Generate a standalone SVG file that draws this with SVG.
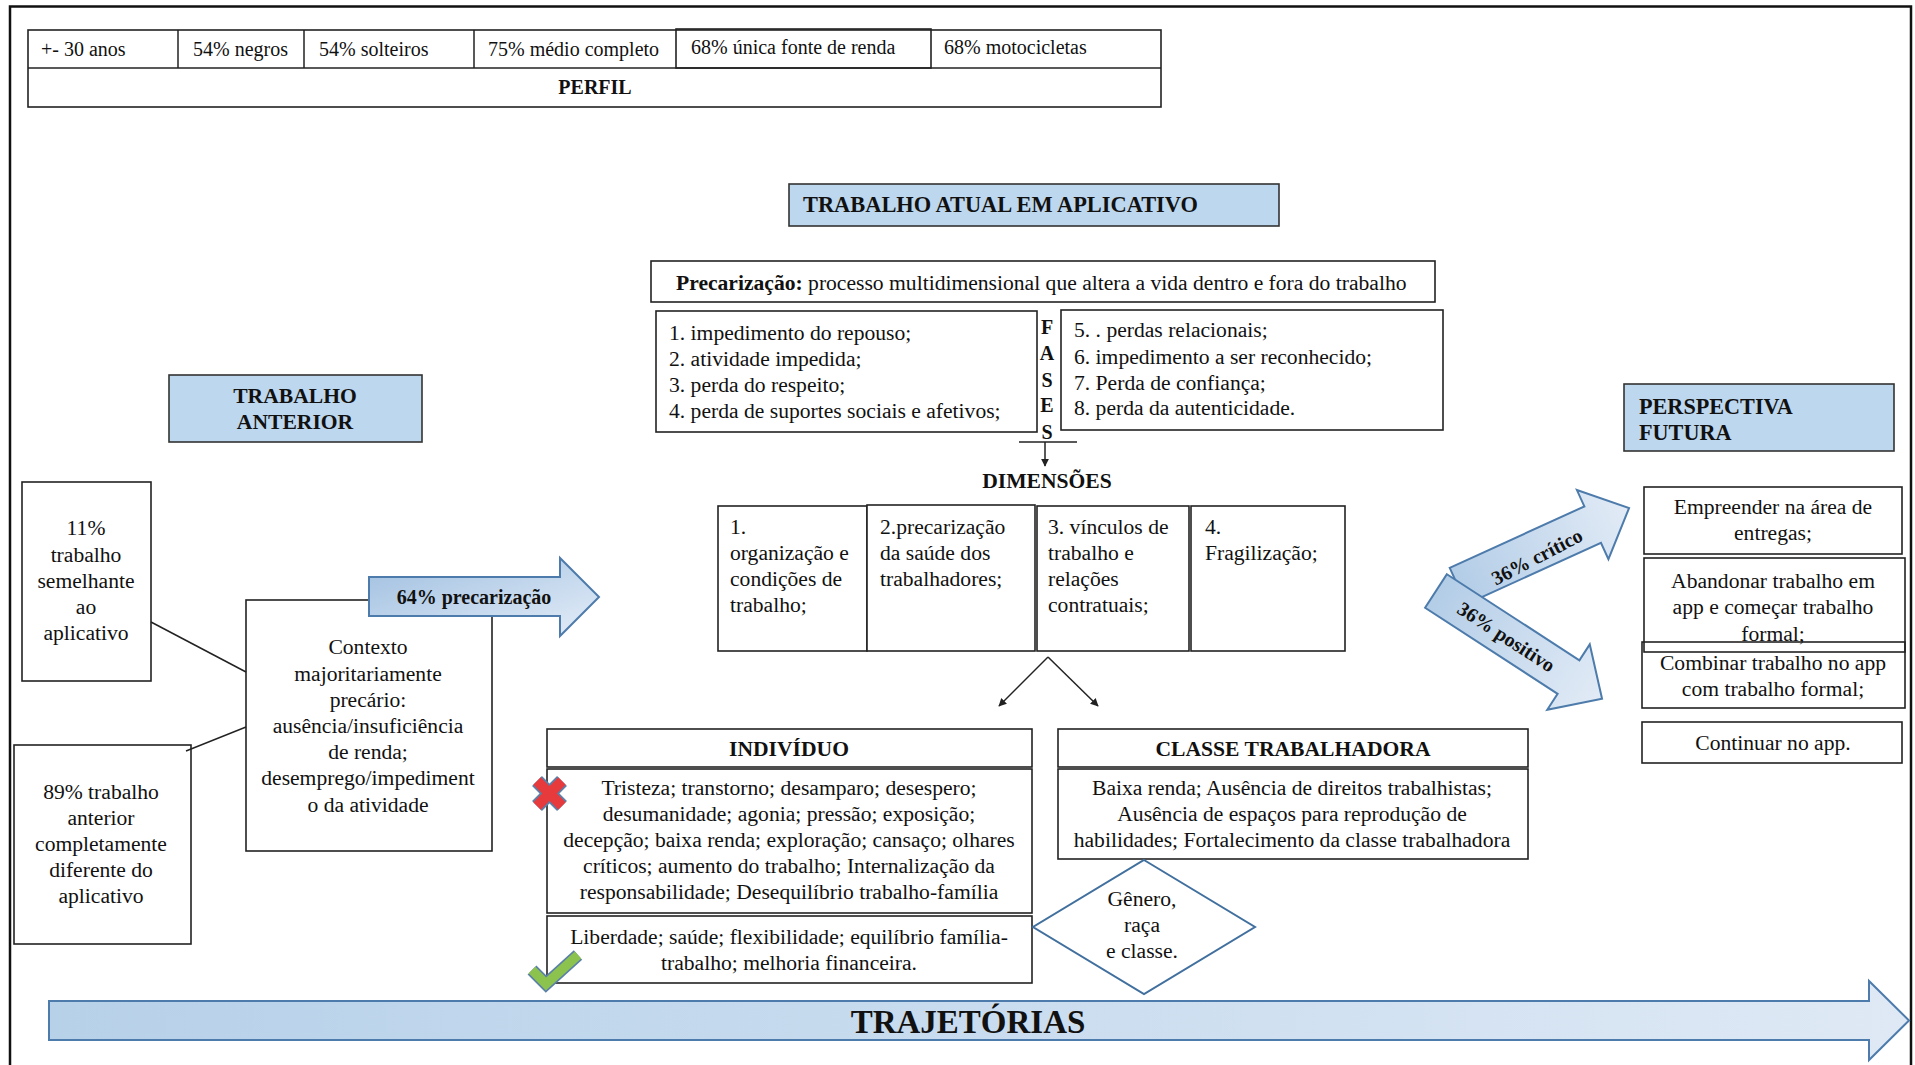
<svg xmlns="http://www.w3.org/2000/svg" width="1915" height="1065" viewBox="0 0 1915 1065">
  <style>
    text { font-family: "Liberation Serif", "Times New Roman", serif; fill: #111; }
    .t20 { font-size: 20px; }
    .t { font-size: 21.6px; }
    .b { font-weight: bold; }
    .c { text-anchor: middle; }
    .box { fill: #fff; stroke: #222; stroke-width: 1.6; }
    .open { fill: none; stroke: #222; stroke-width: 1.6; }
    .head { fill: #bdd7ee; stroke: #333; stroke-width: 1.6; }
    .link { fill: none; stroke: #222; stroke-width: 1.5; }
    .fat { stroke: #4d7bab; stroke-width: 2; stroke-linejoin: miter; }
  </style>
  <defs>
    <marker id="tip" viewBox="0 0 10 10" refX="9" refY="5" markerWidth="8" markerHeight="8" markerUnits="userSpaceOnUse" orient="auto">
      <path d="M0,0 L10,5 L0,10 z" fill="#222"/>
    </marker>
    <linearGradient id="gArrow" x1="0" y1="0" x2="1" y2="1">
      <stop offset="0" stop-color="#9fbfe0"/>
      <stop offset="1" stop-color="#e4edf8"/>
    </linearGradient>
    <linearGradient id="gSide" x1="0" y1="0" x2="1" y2="0">
      <stop offset="0" stop-color="#b3cde7"/>
      <stop offset="1" stop-color="#e2ebf6"/>
    </linearGradient>
    <linearGradient id="gLong" x1="0" y1="0" x2="1" y2="0">
      <stop offset="0" stop-color="#b7d1e9"/>
      <stop offset="0.5" stop-color="#c9dcef"/>
      <stop offset="1" stop-color="#dfe9f5"/>
    </linearGradient>
  </defs>

  <rect width="1915" height="1065" fill="#fff"/>
  <!-- page frame -->
  <rect x="10" y="6.5" width="1901" height="1120" fill="none" stroke="#111" stroke-width="2.5"/>

  <!-- profile table -->
  <g id="perfil">
    <rect class="box" x="28" y="30" width="1133" height="77"/>
    <line class="link" x1="28" y1="68" x2="1161" y2="68"/>
    <line class="link" x1="178" y1="30" x2="178" y2="68"/>
    <line class="link" x1="304" y1="30" x2="304" y2="68"/>
    <line class="link" x1="474" y1="30" x2="474" y2="68"/>
    <rect class="open" x="676" y="29" width="255" height="39" stroke-width="2"/>
    <text class="t20" x="41" y="56">+- 30 anos</text>
    <text class="t20" x="193" y="56">54% negros</text>
    <text class="t20" x="319" y="56">54% solteiros</text>
    <text class="t20" x="488" y="56">75% médio completo</text>
    <text class="t20" x="691" y="54">68% única fonte de renda</text>
    <text class="t20" x="944" y="54">68% motocicletas</text>
    <text class="t20 b c" x="595" y="94">PERFIL</text>
  </g>

  <!-- current app work -->
  <g id="trabalho-atual">
    <rect class="head" x="789" y="184" width="490" height="42"/>
    <text class="b" x="803" y="212" font-size="22.4">TRABALHO ATUAL EM APLICATIVO</text>
  </g>

  <g id="precarizacao">
    <rect class="box" x="651" y="261" width="784" height="41"/>
    <text class="t" x="676" y="290"><tspan class="b">Precarização:</tspan> processo multidimensional que altera a vida dentro e fora do trabalho</text>
  </g>

  <g id="fases-1">
    <rect class="box" x="656" y="311" width="381" height="121"/>
    <text class="t" x="669" y="340">1. impedimento do repouso;</text>
    <text class="t" x="669" y="366">2. atividade impedida;</text>
    <text class="t" x="669" y="392">3. perda do respeito;</text>
    <text class="t" x="669" y="418">4. perda de suportes sociais e afetivos;</text>
  </g>

  <g id="fases-label">
    <text class="t20 b c" x="1047" y="334">F</text>
    <text class="t20 b c" x="1047" y="360">A</text>
    <text class="t20 b c" x="1047" y="387">S</text>
    <text class="t20 b c" x="1047" y="412">E</text>
    <text class="t20 b c" x="1047" y="439">S</text>
  </g>

  <g id="fases-2">
    <rect class="box" x="1061" y="310" width="382" height="120"/>
    <text class="t" x="1074" y="337">5. . perdas relacionais;</text>
    <text class="t" x="1074" y="364">6. impedimento a ser reconhecido;</text>
    <text class="t" x="1074" y="390">7. Perda de confiança;</text>
    <text class="t" x="1074" y="415">8. perda da autenticidade.</text>
  </g>

  <g id="dimensoes-label">
    <text class="t b c" x="1047" y="488">DIMENSÕES</text>
  </g>

  <g id="dim-1">
    <rect class="box" x="718" y="506" width="149" height="145"/>
    <text class="t" x="730" y="534">1.</text>
    <text class="t" x="730" y="560">organização e</text>
    <text class="t" x="730" y="586">condições de</text>
    <text class="t" x="730" y="612">trabalho;</text>
  </g>
  <g id="dim-2">
    <rect class="box" x="867" y="505" width="168" height="146"/>
    <text class="t" x="880" y="534">2.precarização</text>
    <text class="t" x="880" y="560">da saúde dos</text>
    <text class="t" x="880" y="586">trabalhadores;</text>
  </g>
  <g id="dim-3">
    <rect class="box" x="1037" y="506" width="152" height="145"/>
    <text class="t" x="1048" y="534">3. vínculos de</text>
    <text class="t" x="1048" y="560">trabalho e</text>
    <text class="t" x="1048" y="586">relações</text>
    <text class="t" x="1048" y="612">contratuais;</text>
  </g>
  <g id="dim-4">
    <rect class="box" x="1191" y="506" width="154" height="145"/>
    <text class="t" x="1205" y="534">4.</text>
    <text class="t" x="1205" y="560">Fragilização;</text>
  </g>

  <!-- previous work -->
  <g id="trabalho-anterior">
    <rect class="head" x="169" y="375" width="253" height="67"/>
    <text class="t b c" x="295" y="403">TRABALHO</text>
    <text class="t b c" x="295" y="429">ANTERIOR</text>
  </g>

  <g id="semelhante">
    <rect class="box" x="22" y="482" width="129" height="199"/>
    <text class="t c" x="86" y="535">11%</text>
    <text class="t c" x="86" y="562">trabalho</text>
    <text class="t c" x="86" y="588">semelhante</text>
    <text class="t c" x="86" y="614">ao</text>
    <text class="t c" x="86" y="640">aplicativo</text>
  </g>

  <g id="diferente">
    <rect class="box" x="14" y="745" width="177" height="199"/>
    <text class="t c" x="101" y="799">89% trabalho</text>
    <text class="t c" x="101" y="825">anterior</text>
    <text class="t c" x="101" y="851">completamente</text>
    <text class="t c" x="101" y="877">diferente do</text>
    <text class="t c" x="101" y="903">aplicativo</text>
  </g>

  <g id="contexto">
    <rect class="box" x="246" y="600" width="246" height="251"/>
    <text class="t c" x="368" y="654">Contexto</text>
    <text class="t c" x="368" y="681">majoritariamente</text>
    <text class="t c" x="368" y="707">precário:</text>
    <text class="t c" x="368" y="733">ausência/insuficiência</text>
    <text class="t c" x="368" y="759">de renda;</text>
    <text class="t c" x="368" y="785">desemprego/impediment</text>
    <text class="t c" x="368" y="812">o da atividade</text>
  </g>

  <g id="seta-precarizacao">
    <polygon class="fat" fill="url(#gArrow)" points="369,577 560,577 560,558 599,597 560,636 560,616 369,616"/>
    <text class="t20 b c" x="474" y="604">64% precarização</text>
  </g>

  <!-- individual / working class -->
  <g id="individuo">
    <rect class="box" x="547" y="729" width="485" height="38"/>
    <text class="t b c" x="789" y="756">INDIVÍDUO</text>
    <rect class="box" x="547" y="769" width="485" height="144"/>
    <text class="t c" x="789" y="795">Tristeza; transtorno; desamparo; desespero;</text>
    <text class="t c" x="789" y="821">desumanidade; agonia; pressão; exposição;</text>
    <text class="t c" x="789" y="847">decepção; baixa renda; exploração; cansaço; olhares</text>
    <text class="t c" x="789" y="873">críticos; aumento do trabalho; Internalização da</text>
    <text class="t c" x="789" y="899">responsabilidade; Desequilíbrio trabalho-família</text>
  </g>

  <g id="individuo-positivo">
    <rect class="box" x="547" y="916" width="485" height="67"/>
    <text class="t c" x="789" y="944">Liberdade; saúde; flexibilidade; equilíbrio família-</text>
    <text class="t c" x="789" y="970">trabalho; melhoria financeira.</text>
  </g>

  <g id="marca-negativa">
    <line x1="537" y1="781" x2="562" y2="806" stroke="#5a80aa" stroke-width="14"/>
    <line x1="562" y1="781" x2="537" y2="806" stroke="#5a80aa" stroke-width="14"/>
    <line x1="537" y1="781" x2="562" y2="806" stroke="#e63a3c" stroke-width="10.5"/>
    <line x1="562" y1="781" x2="537" y2="806" stroke="#e63a3c" stroke-width="10.5"/>
  </g>

  <g id="marca-positiva">
    <polyline points="532,970 546,984 578,955" fill="none" stroke="#5a80aa" stroke-width="12.5" stroke-linejoin="miter"/>
    <polyline points="532,970 546,984 578,955" fill="none" stroke="#8cc24e" stroke-width="9.5" stroke-linejoin="miter"/>
  </g>

  <g id="classe">
    <rect class="box" x="1058" y="729" width="470" height="38"/>
    <text class="t b c" x="1293" y="756">CLASSE TRABALHADORA</text>
    <rect class="box" x="1058" y="769" width="470" height="90"/>
    <text class="t c" x="1292" y="795">Baixa renda; Ausência de direitos trabalhistas;</text>
    <text class="t c" x="1292" y="821">Ausência de espaços para reprodução de</text>
    <text class="t c" x="1292" y="847">habilidades; Fortalecimento da classe trabalhadora</text>
  </g>

  <g id="genero">
    <polygon points="1144,860 1255,927 1144,994 1033,927" fill="#fff" stroke="#41709e" stroke-width="2"/>
    <text class="t c" x="1142" y="906">Gênero,</text>
    <text class="t c" x="1142" y="932">raça</text>
    <text class="t c" x="1142" y="958">e classe.</text>
  </g>

  <!-- future outlook -->
  <g id="perspectiva">
    <rect class="head" x="1624" y="384" width="270" height="67"/>
    <text class="b" x="1639" y="414" font-size="22.2">PERSPECTIVA</text>
    <text class="b" x="1639" y="440" font-size="22.2">FUTURA</text>
  </g>

  <g id="empreender">
    <rect class="box" x="1644" y="487" width="258" height="67"/>
    <text class="t c" x="1773" y="514">Empreender na área de</text>
    <text class="t c" x="1773" y="540">entregas;</text>
  </g>
  <g id="abandonar">
    <rect class="box" x="1644" y="558" width="261" height="94"/>
    <text class="t c" x="1773" y="588">Abandonar trabalho em</text>
    <text class="t c" x="1773" y="614">app e começar trabalho</text>
    <text class="t c" x="1773" y="641">formal;</text>
  </g>
  <g id="combinar">
    <rect class="open" x="1642" y="642" width="263" height="66"/>
    <text class="t c" x="1773" y="670">Combinar trabalho no app</text>
    <text class="t c" x="1773" y="696">com trabalho formal;</text>
  </g>
  <g id="continuar">
    <rect class="box" x="1642" y="722" width="260" height="41"/>
    <text class="t c" x="1773" y="750">Continuar no app.</text>
  </g>

  <g id="seta-critico" transform="translate(1458,586) rotate(-24.5)">
    <polygon class="fat" fill="url(#gSide)" points="0,-20 148,-20 148,-38 188,0 148,38 148,20 0,20"/>
    <text class="t20 b c" transform="translate(84,6) rotate(-3)" x="0" y="7">36% crítico</text>
  </g>
  <g id="seta-positivo" transform="translate(1436,591) rotate(33)">
    <polygon class="fat" fill="url(#gSide)" points="0,-20 158,-20 158,-39 198,0 158,39 158,20 0,20"/>
    <text class="t20 b c" x="84" y="7">36% positivo</text>
  </g>

  <!-- trajectories band -->
  <g id="trajetorias">
    <polygon class="fat" fill="url(#gLong)" points="49,1001 1869,1001 1869,981 1909,1020.5 1869,1060 1869,1040 49,1040"/>
    <text class="b c" x="968" y="1033" font-size="33">TRAJETÓRIAS</text>
  </g>

  <!-- connectors -->
  <g id="conectores">
    <line class="link" x1="151" y1="622" x2="246" y2="672"/>
    <line class="link" x1="186" y1="751" x2="246" y2="727"/>
    <line class="link" x1="1019" y1="442" x2="1077" y2="442"/>
    <line class="link" x1="1045" y1="442" x2="1045" y2="466" marker-end="url(#tip)"/>
    <line class="link" x1="1048" y1="657" x2="999" y2="706" marker-end="url(#tip)"/>
    <line class="link" x1="1048" y1="657" x2="1098" y2="706" marker-end="url(#tip)"/>
  </g>
</svg>
